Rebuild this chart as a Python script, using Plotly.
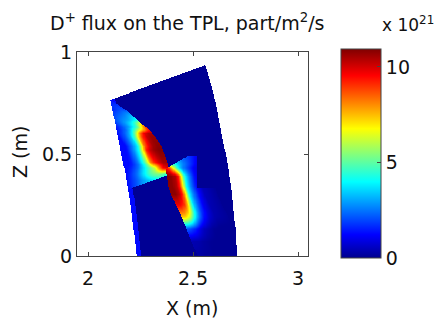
import numpy as np
import plotly.graph_objects as go

# ---------------- data ----------------
left_edge_z = [0.0, 0.13, 0.27, 0.40, 0.52, 0.64, 0.7647]
left_edge_x = [2.231, 2.217, 2.200, 2.178, 2.154, 2.131, 2.107]
right_edge_z = [0.0, 0.1422, 0.3088, 0.4706, 0.6324, 0.799, 0.9363]
right_edge_x = [2.708, 2.700, 2.6843, 2.6605, 2.6286, 2.5967, 2.5571]
top_edge_x = [2.107, 2.5571]
top_edge_z = [0.7647, 0.9363]

upper_bound_z = [0.30, 0.36, 0.4216, 0.4461, 0.4868, 0.5358, 0.6176, 0.6536, 0.716, 0.7647]
upper_bound_x = [2.372, 2.372, 2.376, 2.381, 2.3667, 2.351, 2.2952, 2.2476, 2.1795, 2.107]
step_x = [2.24, 2.359]
step_z = [0.344, 0.389]

lower_bound_z = [0.0, 0.10, 0.15, 0.2108, 0.2417, 0.2907, 0.3397, 0.3887, 0.4299, 0.50]
lower_bound_x = [2.52, 2.48, 2.46, 2.4381, 2.4224, 2.3986, 2.3824, 2.3748, 2.3667, 2.372]
lower_top_x = [2.38, 2.47]
lower_top_z = [0.432, 0.487]
lower_top_cap = 0.49
lower_cut_x = 2.515

dist_upper = [0, 0.02, 0.04, 0.06, 0.08, 0.095, 0.115, 0.14, 0.17, 0.22, 0.40]
rows_upper_z = [0.33, 0.37, 0.40, 0.43, 0.456, 0.52, 0.583, 0.60, 0.632, 0.667, 0.716, 0.765]
flux_upper = [
    [2.5, 3.0, 3.3, 3.3, 3.2, 3.0, 2.7, 2.1, 1.5, 0.8, 0.3],
    [2.7, 3.3, 3.6, 3.6, 3.4, 3.2, 2.8, 2.2, 1.6, 0.8, 0.3],
    [4.5, 5.2, 5.4, 5.2, 4.8, 4.3, 3.5, 2.5, 1.7, 0.8, 0.3],
    [10.0, 9.6, 8.0, 6.2, 5.2, 4.5, 3.5, 2.4, 1.6, 0.8, 0.3],
    [10.6, 10.5, 10.0, 9.3, 8.0, 6.2, 4.2, 2.6, 1.5, 0.8, 0.3],
    [10.9, 10.9, 10.7, 10.2, 9.2, 6.8, 4.1, 2.7, 1.4, 0.7, 0.3],
    [10.7, 10.6, 10.2, 9.0, 7.0, 5.0, 3.3, 2.2, 1.3, 0.6, 0.3],
    [10.5, 10.4, 9.8, 8.2, 5.8, 4.1, 2.9, 2.0, 1.3, 0.7, 0.3],
    [9.3, 7.0, 5.0, 3.9, 3.0, 2.6, 2.0, 1.5, 1.1, 0.6, 0.3],
    [4.2, 3.6, 3.1, 2.8, 2.5, 2.2, 1.9, 1.5, 1.1, 0.6, 0.3],
    [2.0, 2.1, 1.9, 1.7, 1.5, 1.4, 1.2, 1.0, 0.8, 0.5, 0.3],
    [1.4, 1.4, 1.3, 1.2, 1.1, 1.0, 0.9, 0.8, 0.7, 0.5, 0.3],
]
dist_lower = [0, 0.02, 0.04, 0.055, 0.07, 0.085, 0.105, 0.13, 0.16, 0.22]
rows_lower_z = [0.0, 0.07, 0.13, 0.19, 0.25, 0.30, 0.39, 0.43, 0.45, 0.49]
flux_lower = [
    [0.2, 0.2, 0.1, 0.1, 0.1, 0.0, 0.0, 0.0, 0.0, 0.0],
    [0.4, 0.35, 0.3, 0.2, 0.15, 0.1, 0.05, 0.0, 0.0, 0.0],
    [2.2, 2.0, 1.6, 1.2, 0.8, 0.5, 0.3, 0.1, 0.0, 0.0],
    [7.5, 7.2, 6.2, 4.8, 3.4, 2.4, 1.4, 0.7, 0.3, 0.1],
    [9.8, 9.7, 9.0, 7.5, 5.2, 3.5, 2.2, 1.1, 0.4, 0.1],
    [10.8, 10.8, 10.3, 9.2, 6.8, 4.1, 2.7, 1.4, 0.5, 0.1],
    [10.9, 10.8, 10.4, 9.3, 6.8, 4.1, 2.7, 1.4, 0.5, 0.1],
    [9.8, 8.8, 6.5, 4.6, 3.4, 2.6, 2.0, 1.3, 0.6, 0.1],
    [5.5, 4.8, 4.2, 3.6, 3.1, 2.6, 2.1, 1.5, 0.7, 0.2],
    [3.0, 2.8, 2.6, 2.4, 2.2, 2.0, 1.8, 1.4, 0.7, 0.2],
]
edge_band_width = 0.022
edge_band_flux = 1.3
background_flux = 0.05
flux_max = 10.94

x_ticks = [2, 2.5, 3]
x_ticktext = ["2", "2.5", "3"]
z_ticks = [0, 0.5, 1]
z_ticktext = ["0", "0.5", "1"]
cbar_ticks = [0, 5, 10]

# ---------------- build the field on a fine grid ----------------
xg = np.arange(2.095, 2.7151, 0.0025)
zg = np.arange(0.0, 0.9401, 0.0025)
X, Zz = np.meshgrid(xg, zg)

xL = np.interp(zg, left_edge_z, left_edge_x)
xR = np.interp(zg, right_edge_z, right_edge_x)
zTop = np.interp(xg, top_edge_x, top_edge_z)
inside = (X >= xL[:, None]) & (X <= xR[:, None]) & (Zz <= zTop[None, :])

fu = np.array(flux_upper)
fl = np.array(flux_lower)
F = np.full(X.shape, background_flux)

xB = np.interp(zg, upper_bound_z, upper_bound_x)
zstep = step_z[0] + (xg - step_x[0]) * (step_z[1] - step_z[0]) / (step_x[1] - step_x[0])
xR2 = np.interp(zg, lower_bound_z, lower_bound_x)
ztopD = np.minimum(
    lower_top_z[0] + (xg - lower_top_x[0]) * (lower_top_z[1] - lower_top_z[0]) / (lower_top_x[1] - lower_top_x[0]),
    lower_top_cap,
)

for i, z in enumerate(zg):
    row = F[i]
    if rows_upper_z[0] <= z <= upper_bound_z[-1]:
        prof = np.array([np.interp(z, rows_upper_z, fu[:, j]) for j in range(len(dist_upper))])
        d = xB[i] - xg
        ok = (d >= 0) & (z >= zstep)
        vals = np.interp(d, dist_upper, prof)
        row[ok] = np.maximum(row[ok], vals[ok])
    if z <= rows_lower_z[-1]:
        prof = np.array([np.interp(z, rows_lower_z, fl[:, j]) for j in range(len(dist_lower))])
        d = xg - xR2[i]
        ok = (d >= 0) & (z <= ztopD)
        if z > 0.33:
            ok &= xg <= lower_cut_x
        vals = np.interp(d, dist_lower, prof, right=0.0)
        row[ok] = np.maximum(row[ok], vals[ok])
    band = (xg - xL[i]) < edge_band_width
    row[band] = np.maximum(row[band], edge_band_flux)

F = np.where(inside, np.round(F, 2), np.nan).astype(np.float32)

# MATLAB jet colormap
jet = [
    [0.0, "rgb(0,0,143)"],
    [0.111, "rgb(0,0,255)"],
    [0.365, "rgb(0,255,255)"],
    [0.619, "rgb(255,255,0)"],
    [0.873, "rgb(255,0,0)"],
    [1.0, "rgb(128,0,0)"],
]

W, H = 438, 320
FONT = "DejaVu Sans"
axis_font = dict(family=FONT, size=19, color="#111")

fig = go.Figure(
    go.Heatmap(
        x=xg, y=zg, z=F,
        colorscale=jet, zmin=0, zmax=flux_max,
        hoverinfo="skip",
        colorbar=dict(
            x=341 / W, xanchor="left", xpad=0,
            y=(H - 258) / H, yanchor="bottom", ypad=0,
            len=209 / H, lenmode="fraction",
            thickness=40, thicknessmode="pixels",
            outlinewidth=1, outlinecolor="#444",
            tickvals=cbar_ticks, ticktext=[str(t) for t in cbar_ticks],
            ticks="inside", ticklen=4, tickcolor="#444",
            tickfont=axis_font,
        ),
    )
)

fig.update_layout(
    width=W, height=H,
    margin=dict(l=0, r=0, t=0, b=0, autoexpand=False),
    paper_bgcolor="white", plot_bgcolor="white",
    showlegend=False,
    xaxis=dict(
        domain=[77 / W, 308 / W], range=[1.9476, 3.0476],
        tickvals=x_ticks, ticktext=x_ticktext,
        ticks="inside", ticklen=4, tickcolor="#444",
        showline=True, linecolor="#444", linewidth=1, mirror="ticks",
        showgrid=False, zeroline=False, tickfont=axis_font, automargin=False,
        ticklabelstandoff=5,
    ),
    yaxis=dict(
        domain=[(H - 256) / H, (H - 52) / H], range=[0, 1],
        tickvals=z_ticks, ticktext=z_ticktext,
        ticks="inside", ticklen=4, tickcolor="#444",
        showline=True, linecolor="#444", linewidth=1, mirror="ticks",
        showgrid=False, zeroline=False, tickfont=axis_font, automargin=False,
    ),
    annotations=[
        dict(text="D<sup>+</sup> flux on the TPL, part/m<sup>2</sup>/s",
             x=187 / W, y=1 - 22 / H, xref="paper", yref="paper",
             xanchor="center", yanchor="middle", showarrow=False,
             font=dict(family=FONT, size=19, color="#111")),
        dict(text="X (m)", x=192 / W, y=1 - 308 / H, xref="paper", yref="paper",
             xanchor="center", yanchor="middle", showarrow=False, font=axis_font),
        dict(text="Z (m)", x=20 / W, y=1 - 152 / H, xref="paper", yref="paper",
             xanchor="center", yanchor="middle", showarrow=False, textangle=-90,
             font=axis_font),
        dict(text="x 10<sup>21</sup>", x=380 / W, y=1 - 24 / H, xref="paper", yref="paper",
             xanchor="left", yanchor="middle", showarrow=False,
             font=dict(family=FONT, size=17, color="#111")),
    ],
)

fig.write_html("out.html")
